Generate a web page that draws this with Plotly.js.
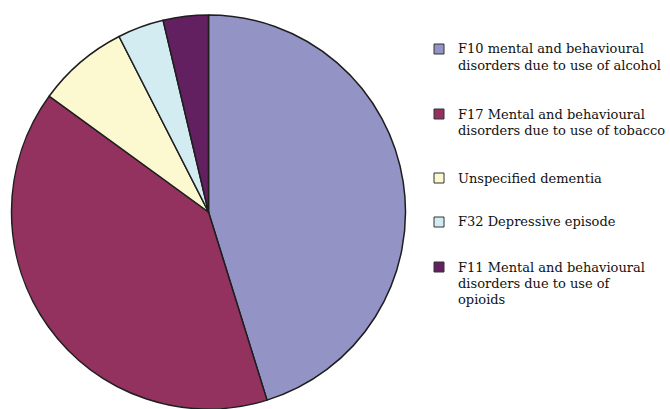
<!DOCTYPE html>
<html>
<head>
<meta charset="utf-8">
<script src="https://cdn.plot.ly/plotly-3.0.1.min.js"></script>
<style>html,body{margin:0;padding:0;background:#fff;}#chart{width:670px;height:409px;}</style>
</head>
<body>
<div id="chart"></div>
<script>
var categories = [
  "F10 mental and behavioural<br>disorders due to use of alcohol",
  "F17 Mental and behavioural<br>disorders due to use of tobacco",
  "Unspecified dementia",
  "F32 Depressive episode",
  "F11 Mental and behavioural<br>disorders due to use of<br>opioids"
];
var shares = [45.2, 39.8, 7.5, 3.8, 3.7];
var colors = ["#9393c6", "#93325f", "#fcf8d0", "#d3ecf2", "#632060"];

var W = 670, H = 409;
// legend layout (pixel centres of the first line of each entry)
var legendTop = [49, 114, 178, 222, 267];
var lineGap = 16;
var squareX = 434, squareSize = 10, textX = 456;

var annotations = [], shapes = [];
categories.forEach(function (lab, i) {
  var lines = lab.split("<br>");
  lines.forEach(function (ln, j) {
    annotations.push({
      xref: "paper", yref: "paper",
      x: textX / W, y: 1 - (legendTop[i] + j * lineGap) / H,
      xanchor: "left", yanchor: "middle",
      text: ln, showarrow: false,
      font: {family: "DejaVu Serif", size: 13, color: "#111111"}
    });
  });
  var cy = legendTop[i];
  shapes.push({
    type: "rect", xref: "paper", yref: "paper",
    x0: squareX / W, x1: (squareX + squareSize) / W,
    y0: 1 - (cy + squareSize / 2) / H, y1: 1 - (cy - squareSize / 2) / H,
    fillcolor: colors[i], line: {color: "#333", width: 1}
  });
});

var cx = 208.5, cyc = 212, r = 197;
var trace = {
  type: "pie",
  labels: categories.map(function (c) { return c.replace(/<br>/g, " "); }),
  values: shares,
  sort: false,
  direction: "clockwise",
  rotation: 0,
  textinfo: "none",
  hoverinfo: "label+percent",
  marker: {colors: colors, line: {color: "#1e1e1e", width: 1.5}},
  domain: {x: [(cx - r) / W, (cx + r) / W], y: [Math.max(0, 1 - (cyc + r) / H), 1 - (cyc - r) / H]},
  showlegend: false
};

var layout = {
  width: W, height: H,
  margin: {l: 0, r: 0, t: 0, b: 0},
  paper_bgcolor: "#ffffff",
  showlegend: false,
  annotations: annotations,
  shapes: shapes
};
Plotly.newPlot("chart", [trace], layout, {displayModeBar: false, staticPlot: true});
</script>
</body>
</html>
